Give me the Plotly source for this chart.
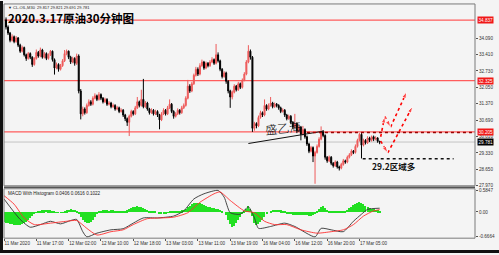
import plotly.graph_objects as go

# ---------------- data ----------------
first_open = 34.85
close = [34.55, 34.30, 34.00, 34.15, 33.95, 34.10, 33.80, 33.55, 33.70, 33.40,
         33.25, 33.45, 33.30, 33.00, 33.25, 33.50, 33.35, 33.60, 33.30, 33.45,
         33.25, 33.40, 33.55, 33.20, 32.85, 33.00, 32.80, 32.95, 33.15, 33.45,
         33.55, 33.30, 33.10, 33.25, 33.05, 33.35, 31.90, 30.95, 31.15, 31.00,
         31.30, 31.45, 31.35, 31.60, 31.70, 31.55, 31.75, 31.60, 31.45, 31.55,
         31.35, 31.40, 31.25, 31.30, 31.15, 31.20, 31.05, 31.10, 30.90, 30.75,
         30.60, 30.85, 31.05, 30.95, 31.20, 31.45, 31.30, 31.55, 31.25, 31.40,
         31.15, 31.00, 31.10, 30.95, 31.05, 30.90, 30.70, 30.95, 31.10, 30.95,
         31.20, 31.35, 31.05, 30.85, 30.95, 31.10, 31.00, 31.20, 31.30, 31.60,
         32.10, 31.90, 32.20, 32.55, 32.80, 32.60, 32.95, 33.10, 32.85, 33.05,
         32.95, 33.10, 33.20, 33.05, 33.40, 33.15, 32.80, 32.50, 32.65, 32.30,
         31.90, 31.65, 31.85, 32.10, 31.95, 32.20, 32.05, 32.35, 32.60, 33.10,
         33.55, 33.30, 30.35, 30.55, 30.45, 30.80, 31.00, 30.90, 31.30, 31.15,
         31.30, 31.40, 31.25, 31.35, 31.30, 31.20, 31.05, 31.10, 30.90, 30.75,
         30.85, 30.60, 30.40, 30.55, 30.25, 30.40, 30.10, 30.30, 30.00, 29.70,
         29.40, 29.55, 29.20, 29.35, 29.60, 29.90, 30.20, 30.05, 29.15, 29.00,
         29.15, 28.90, 28.80, 28.95, 28.75, 28.70, 28.85, 29.00, 28.95, 29.15,
         29.25, 29.40, 29.35, 29.60, 29.85, 30.10, 29.65, 29.85, 29.75, 29.95,
         29.85, 30.00, 29.90, 29.95, 29.817, 29.781]
high = [34.95, 34.62, 34.35, 34.25, 34.20, 34.18, 34.14, 33.86, 33.78, 33.74,
        33.45, 33.52, 33.50, 33.34, 33.30, 33.62, 33.56, 33.70, 33.65, 33.52,
        33.50, 33.46, 33.60, 33.58, 33.25, 33.08, 33.05, 33.02, 33.22, 33.60,
        33.62, 33.58, 33.36, 33.32, 33.30, 33.45, 33.42, 31.98, 31.25, 31.22,
        31.38, 31.55, 31.52, 31.68, 31.80, 31.75, 31.85, 31.80, 31.65, 31.62,
        31.60, 31.48, 31.45, 31.38, 31.35, 31.28, 31.25, 31.18, 31.15, 30.95,
        30.80, 30.92, 31.12, 31.10, 31.28, 31.65, 31.50, 31.95, 32.40, 31.48,
        31.45, 31.20, 31.18, 31.15, 31.12, 31.10, 30.95, 31.02, 31.18, 31.15,
        31.28, 31.55, 31.40, 31.10, 31.02, 31.18, 31.15, 31.28, 31.38, 31.68,
        32.36, 32.18, 32.28, 32.62, 32.90, 32.88, 33.05, 33.20, 33.15, 33.12,
        33.10, 33.18, 33.30, 33.25, 33.85, 33.50, 33.20, 32.85, 32.72, 32.70,
        32.35, 31.95, 31.92, 32.18, 32.15, 32.28, 32.25, 32.42, 32.68, 33.18,
        33.80, 33.62, 33.35, 30.62, 30.60, 30.88, 31.08, 31.05, 31.55, 31.35,
        31.38, 31.65, 31.45, 31.42, 31.40, 31.35, 31.25, 31.18, 31.15, 30.95,
        30.92, 30.90, 30.65, 30.95, 30.60, 30.48, 30.45, 30.45, 30.35, 30.05,
        29.75, 29.62, 29.60, 29.42, 29.68, 29.98, 30.43, 30.28, 30.10, 29.20,
        29.22, 29.20, 28.95, 29.02, 29.00, 28.80, 28.92, 29.08, 29.05, 29.22,
        29.32, 29.48, 29.45, 29.68, 29.92, 30.15, 30.15, 29.92, 29.90, 30.02,
        30.00, 30.05, 30.05, 30.02, 29.98, 29.821]
low = [34.45, 34.22, 33.92, 33.95, 33.88, 33.90, 33.72, 33.48, 33.50, 33.33,
       33.15, 33.20, 33.22, 32.90, 32.95, 33.20, 33.28, 33.30, 33.24, 33.25,
       33.18, 33.20, 33.35, 33.12, 32.58, 32.80, 32.70, 32.75, 32.90, 33.10,
       33.38, 33.22, 33.02, 33.05, 32.95, 32.98, 31.80, 30.72, 30.85, 30.92,
       30.95, 31.25, 31.28, 31.30, 31.55, 31.48, 31.50, 31.52, 31.38, 31.40,
       31.28, 31.30, 31.18, 31.20, 31.08, 31.10, 30.98, 31.00, 30.82, 30.65,
       30.45, 30.03, 30.80, 30.88, 30.90, 31.15, 31.22, 31.25, 31.18, 31.20,
       31.08, 30.92, 30.95, 30.88, 30.90, 30.82, 30.31, 30.65, 30.90, 30.88,
       30.90, 31.15, 30.98, 30.75, 30.80, 30.90, 30.92, 30.95, 31.15, 31.25,
       31.55, 31.82, 31.85, 32.15, 32.50, 32.52, 32.55, 32.90, 32.78, 32.80,
       32.88, 32.90, 33.05, 32.98, 33.00, 33.08, 32.72, 32.42, 32.45, 32.20,
       31.80, 31.20, 31.55, 31.80, 31.88, 31.90, 31.98, 32.00, 32.30, 32.55,
       33.05, 33.20, 30.20, 30.25, 30.35, 30.40, 30.75, 30.82, 30.85, 31.08,
       31.10, 31.25, 31.18, 31.20, 31.22, 31.12, 30.98, 31.00, 30.82, 30.68,
       30.70, 30.52, 30.32, 30.35, 30.15, 30.20, 29.85, 30.05, 29.92, 29.62,
       29.32, 29.35, 28.95, 28.05, 29.30, 29.55, 29.85, 29.98, 29.05, 28.92,
       28.95, 28.82, 28.72, 28.75, 28.68, 28.60, 28.65, 28.80, 28.88, 28.90,
       29.10, 29.20, 29.28, 29.30, 29.55, 29.80, 29.10, 29.60, 29.68, 29.70,
       29.78, 29.80, 29.82, 29.85, 29.75, 29.691]
bars = list(range(1, len(close) + 1))
opens = [first_open] + close[:-1]

hist = [-0.25, -0.28, -0.30, -0.32, -0.33, -0.34, -0.35, -0.35, -0.34, -0.33,
        -0.30, -0.26, -0.21, -0.16, -0.11, -0.06, -0.02, 0.02, 0.04, 0.05,
        0.05, 0.06, 0.05, 0.05, 0.04, 0.02, -0.01, -0.02, -0.02, -0.01,
        0.02, 0.05, 0.07, 0.08, 0.07, 0.06, 0.03, -0.05, -0.14, -0.22,
        -0.27, -0.30, -0.30, -0.26, -0.20, -0.12, -0.05, 0.01, 0.04, 0.05,
        0.05, 0.05, 0.04, 0.05, 0.05, 0.04, 0.04, 0.03, 0.03, 0.02,
        0.03, 0.05, 0.08, 0.11, 0.13, 0.15, 0.16, 0.15, 0.13, 0.11,
        0.08, 0.06, 0.04, 0.04, 0.03, 0.02, 0.00, -0.03, -0.05, -0.05,
        -0.04, -0.01, 0.02, 0.03, 0.04, 0.04, 0.03, 0.04, 0.05, 0.07,
        0.10, 0.14, 0.18, 0.22, 0.25, 0.26, 0.26, 0.24, 0.22, 0.19,
        0.17, 0.15, 0.13, 0.12, 0.11, 0.10, 0.08, 0.06, 0.03, 0.00,
        -0.08, -0.20, -0.32, -0.39, -0.37, -0.30, -0.22, -0.14, -0.06, 0.02,
        0.10, 0.17, 0.08, -0.10, -0.28, -0.34, -0.32, -0.26, -0.20, -0.13,
        -0.06, 0.00, 0.04, 0.06, 0.07, 0.07, 0.06, 0.05, 0.03, 0.01,
        -0.03, -0.05, -0.06, -0.07, -0.07, -0.07, -0.08, -0.08, -0.07, -0.07,
        -0.08, -0.09, -0.09, -0.08, -0.05, 0.02, 0.08, 0.14, 0.17, 0.12,
        0.06, 0.02, 0.01, 0.01, 0.01, 0.01, 0.01, 0.01, 0.02, 0.04,
        0.07, 0.11, 0.15, 0.19, 0.23, 0.26, 0.27, 0.24, 0.21, 0.18,
        0.15, 0.12, 0.10, 0.08, 0.06, 0.05, 0.04]
hist_bars = list(range(0, len(hist)))

macd_bar = [0, 8, 13, 18, 23, 28, 33, 36, 39, 41, 46, 53, 59, 64, 69, 76, 84, 89, 94, 99,
            106, 109, 112, 117, 121, 124, 126, 132, 139, 144, 154, 157, 162, 168, 173, 177, 180, 186]
macd_val = [0.35, -0.20, -0.41, -0.34, -0.25, -0.32, -0.23, -0.20, -0.53, -0.67,
            -0.57, -0.48, -0.45, -0.30, -0.16, -0.16, -0.11, 0.03, 0.35, 0.49,
            0.58, 0.40, -0.02, -0.06, 0.14, -0.16, -0.44, -0.39, -0.30, -0.39,
            -0.67, -0.44, -0.48, -0.53, -0.25, -0.06, 0.07, 0.102]
sig_bar = [0, 5, 10, 15, 23, 31, 36, 41, 46, 53, 59, 64, 71, 78, 84, 91, 97, 104, 107, 112,
           119, 124, 129, 134, 140, 147, 155, 162, 168, 173, 178, 183, 186]
sig_val = [0.44, 0.21, -0.16, -0.34, -0.30, -0.25, -0.23, -0.44, -0.62, -0.53,
           -0.48, -0.34, -0.18, -0.16, -0.14, -0.02, 0.26, 0.49, 0.54, 0.31,
           0.03, -0.02, -0.25, -0.34, -0.34, -0.48, -0.57, -0.53, -0.48, -0.34,
           -0.11, 0.03, 0.062]

time_ticks = [0, 16, 32, 48, 64, 80, 96, 112, 128, 144, 160, 176]
time_labels = ["11 Mar 2020", "11 Mar 17:00", "12 Mar 02:00", "12 Mar 10:00",
               "12 Mar 18:00", "13 Mar 03:00", "13 Mar 11:00", "13 Mar 19:00",
               "16 Mar 04:00", "16 Mar 12:00", "16 Mar 20:00", "17 Mar 05:00"]
price_ticks = [34.09, 33.41, 32.73, 32.05, 31.37, 30.69, 30.01, 29.33, 28.65, 27.97]
macd_ticks = [0.5847, 0.0, -0.6664]
macd_tick_labels = ["0.5847", "0.00", "-0.6664"]

red_levels = [34.837, 32.325, 30.205]
last_price = 29.781
buy_zone = 29.09
# drawn annotations (bar index, price)
arrow1_bar = [186.5, 188.5, 191.4, 199.4]
arrow1_px = [30.00, 30.85, 30.40, 31.87]
arrow2_bar = [186.5, 190.0, 202.3]
arrow2_px = [29.82, 29.33, 31.26]

# ---------------- figure ----------------
BG = "#f4f4f4"
X0, X1 = 4 / 499, 475 / 499
XR = [0, 233.2]
Y_MAIN = [1 - 187 / 255, 1 - 3 / 255]
Y_MACD = [1 - 240 / 255, 1 - 190 / 255]

fig = go.Figure()

fig.add_trace(go.Candlestick(
    x=bars, open=opens, high=high, low=low, close=close,
    increasing=dict(line=dict(color="#ee5a5a", width=1), fillcolor="#ee5a5a"),
    decreasing=dict(line=dict(color="#000000", width=1), fillcolor="#000000"),
    whiskerwidth=0, xaxis="x", yaxis="y", hoverinfo="skip"))

# signature stroke
fig.add_trace(go.Scatter(x=[121, 158], y=[29.72, 30.23], mode="lines",
                         line=dict(color="#111", width=1), xaxis="x", yaxis="y",
                         hoverinfo="skip"))

# red dotted forecast arrows
for bx, py in ((arrow1_bar, arrow1_px), (arrow2_bar, arrow2_px)):
    fig.add_trace(go.Scatter(
        x=bx, y=py, mode="lines+markers",
        line=dict(color="#ff0000", width=1.6, dash="dot"),
        marker=dict(symbol="arrow", angleref="previous", color="#ff0000",
                    size=[0] + [7] * (len(bx) - 1)),
        xaxis="x", yaxis="y", hoverinfo="skip"))

# MACD panel
fig.add_trace(go.Bar(x=hist_bars, y=hist, width=0.55, marker=dict(color="#22e022", line=dict(width=0)),
                     xaxis="x2", yaxis="y2", hoverinfo="skip"))
fig.add_trace(go.Scatter(x=macd_bar, y=macd_val, mode="lines",
                         line=dict(color="#333333", width=0.9, shape="spline", smoothing=0.6),
                         xaxis="x2", yaxis="y2", hoverinfo="skip"))
fig.add_trace(go.Scatter(x=sig_bar, y=sig_val, mode="lines",
                         line=dict(color="#ff3030", width=0.9, shape="spline", smoothing=0.6),
                         xaxis="x2", yaxis="y2", hoverinfo="skip"))

shapes = []
for lv in red_levels:
    shapes.append(dict(type="line", xref="x domain", yref="y", x0=0, x1=1, y0=lv, y1=lv,
                       line=dict(color="#ff5c5c", width=1.3), layer="below"))
shapes.append(dict(type="line", xref="x domain", yref="y", x0=0, x1=1, y0=last_price, y1=last_price,
                   line=dict(color="#c4c4c4", width=1), layer="below"))
shapes.append(dict(type="line", xref="x", yref="y", x0=150, x1=XR[1], y0=30.18, y1=30.18,
                   line=dict(color="#9a0000", width=1.5, dash="dot")))
shapes.append(dict(type="line", xref="x", yref="y", x0=177.6, x1=222.6, y0=buy_zone, y1=buy_zone,
                   line=dict(color="#111111", width=1.5, dash="dot")))
# panel frames
shapes.append(dict(type="rect", xref="paper", yref="paper", x0=X0, x1=X1, y0=Y_MAIN[0], y1=Y_MAIN[1],
                   line=dict(color="#7a7a7a", width=1)))
shapes.append(dict(type="rect", xref="paper", yref="paper", x0=X0, x1=X1, y0=Y_MACD[0], y1=Y_MACD[1],
                   line=dict(color="#7a7a7a", width=1)))
shapes.append(dict(type="line", xref="paper", yref="paper", x0=X0, x1=X1, y0=1 - 188.5 / 255, y1=1 - 188.5 / 255,
                   line=dict(color="#555555", width=1.5)))
# outer window frame
shapes.append(dict(type="rect", xref="paper", yref="paper", x0=0, x1=3 / 499, y0=0, y1=1,
                   fillcolor="#111", line=dict(width=0)))
shapes.append(dict(type="rect", xref="paper", yref="paper", x0=0, x1=1, y0=0, y1=3 / 255,
                   fillcolor="#111", line=dict(width=0)))

ann = []
ann.append(dict(text="<b>2020.3.17原油30分钟图</b>", xref="paper", yref="paper", x=6 / 499, y=1 - 17 / 255,
                xanchor="left", yanchor="middle", showarrow=False,
                font=dict(family="Noto Sans CJK SC", size=11.5, color="#000")))
ann.append(dict(text="▼ CL-OIL,M30  29.817 29.821 29.691 29.781", xref="paper", yref="paper",
                x=6 / 499, y=1 - 6.5 / 255, xanchor="left", yanchor="middle", showarrow=False,
                font=dict(family="Liberation Sans", size=4, color="#222")))
ann.append(dict(text="MACD With Histogram 0.0406 0.0616 0.1022", xref="paper", yref="paper",
                x=6 / 499, y=1 - 195 / 255, xanchor="left", yanchor="middle", showarrow=False,
                font=dict(family="Liberation Sans", size=4.6, color="#222")))
ann.append(dict(text="<b>29.2区域多</b>", xref="x", yref="y", x=193, y=28.80,
                xanchor="center", yanchor="middle", showarrow=False,
                font=dict(family="Noto Sans CJK SC", size=8.5, color="#111")))
ann.append(dict(text="盛乙海", xref="x", yref="y", x=138, y=30.40,
                xanchor="center", yanchor="middle", showarrow=False, textangle=-6,
                font=dict(family="Noto Sans CJK SC", size=12, color="#000", weight=300)))
for lv, bg in ((34.837, "#f01818"), (32.325, "#f01818"), (30.205, "#f01818"), (last_price, "#000000")):
    ann.append(dict(text=f"{lv:.3f}", xref="paper", yref="y", x=477 / 499, y=lv,
                    xanchor="left", yanchor="middle", showarrow=False, bgcolor=bg,
                    borderpad=0.5, font=dict(family="Liberation Sans", size=4.6, color="#fff")))

axis_font = dict(family="Liberation Sans", size=4.6, color="#333")
fig.update_layout(
    width=499, height=255, margin=dict(l=0, r=0, t=0, b=0),
    paper_bgcolor=BG, plot_bgcolor=BG, showlegend=False, bargap=0,
    shapes=shapes, annotations=ann,
    xaxis=dict(domain=[X0, X1], range=XR, anchor="y", showticklabels=False, showgrid=False,
               zeroline=False, rangeslider=dict(visible=False), ticks=""),
    yaxis=dict(domain=Y_MAIN, range=[27.965, 35.51], side="right", anchor="x", showgrid=False,
               zeroline=False, tickmode="array", tickvals=price_ticks,
               ticktext=[f"{v:.3f}" for v in price_ticks], ticks="outside", ticklen=2,
               tickcolor="#555", tickfont=axis_font),
    xaxis2=dict(domain=[X0, X1], range=XR, anchor="y2", showgrid=False, zeroline=False,
                tickmode="array", tickvals=time_ticks, ticktext=time_labels, tickangle=0,
                ticks="outside", ticklen=2, tickcolor="#555", tickfont=axis_font,
                ticklabelposition="outside right"),
    yaxis2=dict(domain=Y_MACD, range=[-0.705, 0.625], side="right", anchor="x2", showgrid=False,
                zeroline=False, tickmode="array", tickvals=macd_ticks, ticktext=macd_tick_labels,
                ticks="outside", ticklen=2, tickcolor="#555", tickfont=axis_font),
)

fig.write_html("out.html")
